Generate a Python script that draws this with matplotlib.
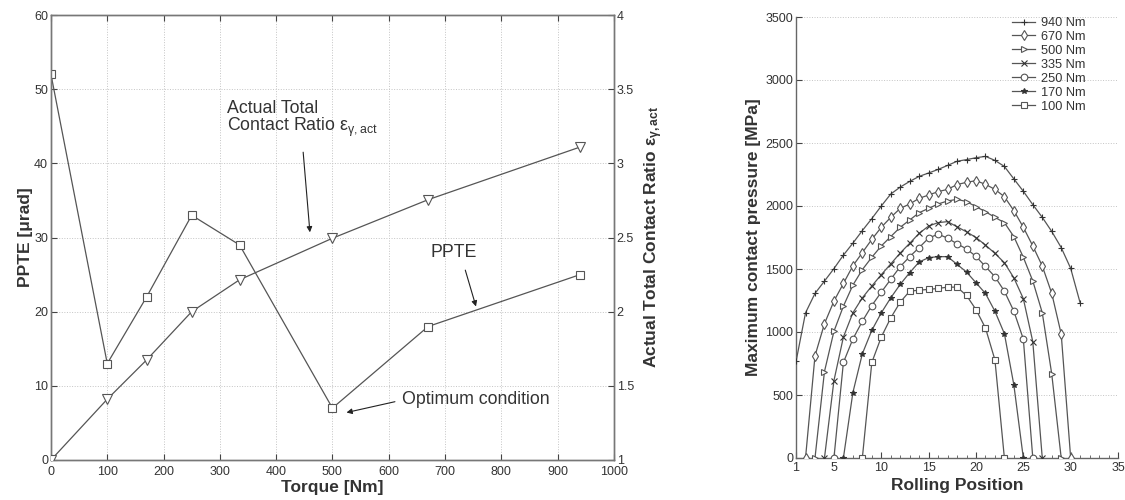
import matplotlib
matplotlib.use('Agg')
import matplotlib.pyplot as plt
from matplotlib.ticker import MultipleLocator, FuncFormatter, FixedLocator

plt.rcParams['font.family'] = ['Liberation Sans', 'DejaVu Sans']
plt.rcParams['mathtext.fontset'] = 'custom'
plt.rcParams['mathtext.rm'] = 'Liberation Sans'
plt.rcParams['mathtext.it'] = 'Liberation Sans:italic'
plt.rcParams['mathtext.bf'] = 'Liberation Sans:bold'

# ---------------- data: left chart ----------------
torque = [0, 100, 170, 250, 335, 500, 670, 940]
ppte = [52, 13, 22, 33, 29, 7, 18, 25]
contact_ratio = [1.0, 1.41, 1.675, 2.0, 2.215, 2.495, 2.755, 3.11]

# ---------------- data: right chart ----------------
labels = ['940 Nm', '670 Nm', '500 Nm', '335 Nm', '250 Nm', '170 Nm', '100 Nm']
markers = ['+', 'd', '>', 'x', 'o', '*', 's']

pos_940 = [1, 2, 3, 4, 5, 6, 7, 8, 9, 10, 11, 12, 13, 14, 15, 16, 17, 18, 19, 20,
           21, 22, 23, 24, 25, 26, 27, 28, 29, 30, 31]
p_940 = [766, 1152, 1306, 1404, 1503, 1610, 1705, 1805, 1900, 2000, 2095, 2150, 2195,
         2235, 2262, 2290, 2322, 2355, 2368, 2383, 2394, 2362, 2314, 2215, 2117, 2011,
         1910, 1798, 1670, 1505, 1231]
pos_670 = [2, 3, 4, 5, 6, 7, 8, 9, 10, 11, 12, 13, 14, 15, 16, 17, 18, 19, 20, 21,
           22, 23, 24, 25, 26, 27, 28, 29, 30]
p_670 = [0, 811, 1066, 1245, 1385, 1525, 1630, 1735, 1831, 1910, 1981, 2016, 2061, 2087,
         2114, 2132, 2170, 2188, 2201, 2172, 2132, 2074, 1963, 1831, 1683, 1524, 1307, 984, 0]
pos_500 = [3, 4, 5, 6, 7, 8, 9, 10, 11, 12, 13, 14, 15, 16, 17, 18, 19, 20, 21, 22,
           23, 24, 25, 26, 27, 28, 29]
p_500 = [0, 686, 1005, 1205, 1372, 1495, 1593, 1683, 1757, 1831, 1889, 1947, 1981, 2016,
         2040, 2053, 2035, 1995, 1955, 1910, 1868, 1757, 1593, 1405, 1153, 667, 0]
pos_335 = [4, 5, 6, 7, 8, 9, 10, 11, 12, 13, 14, 15, 16, 17, 18, 19, 20, 21, 22, 23,
           24, 25, 26, 27]
p_335 = [0, 614, 960, 1152, 1271, 1365, 1455, 1540, 1627, 1704, 1783, 1841, 1868, 1876,
         1835, 1795, 1750, 1690, 1624, 1550, 1430, 1265, 923, 0]
pos_250 = [5, 6, 7, 8, 9, 10, 11, 12, 13, 14, 15, 16, 17, 18, 19, 20, 21, 22, 23, 24,
           25, 26]
p_250 = [0, 758, 944, 1085, 1210, 1316, 1418, 1519, 1598, 1670, 1745, 1777, 1745, 1700,
         1660, 1600, 1520, 1439, 1324, 1165, 944, 0]
pos_170 = [6, 7, 8, 9, 10, 11, 12, 13, 14, 15, 16, 17, 18, 19, 20, 21, 22, 23, 24, 25]
p_170 = [0, 519, 827, 1013, 1152, 1271, 1378, 1471, 1556, 1590, 1598, 1598, 1537, 1476,
         1391, 1306, 1165, 987, 580, 0]
pos_100 = [8, 9, 10, 11, 12, 13, 14, 15, 16, 17, 18, 19, 20, 21, 22, 23]
p_100 = [0, 758, 960, 1112, 1237, 1324, 1332, 1338, 1346, 1356, 1356, 1290, 1178, 1032,
         779, 0]

positions = [pos_940, pos_670, pos_500, pos_335, pos_250, pos_170, pos_100]
pressures = [p_940, p_670, p_500, p_335, p_250, p_170, p_100]

LC = '#555555'
TC = '#333333'
GC = '#c4c4c4'
TICK_FS = 9
LABEL_FS = 12.5
ANN_FS = 12.8

fig = plt.figure(figsize=(11.25, 5), dpi=100)

# ================= left chart =================
ax = fig.add_axes([0.0453, 0.08, 0.5004, 0.89])
ax.plot(torque, ppte, color=LC, lw=0.9, marker='s', ms=5.5, mfc='white', mec=LC, mew=0.8,
        zorder=3)
ax.set_xlim(0, 1000)
ax.set_ylim(0, 60)
ax.xaxis.set_major_locator(MultipleLocator(100))
ax.yaxis.set_major_locator(MultipleLocator(10))
ax.grid(True, linestyle=':', color=GC, lw=0.7)
ax.tick_params(direction='in', labelsize=TICK_FS, colors='#444444', labelcolor=TC, top=True,
               length=4, pad=2)
ax.tick_params(axis='x', pad=4)
for s in ax.spines.values():
    s.set_color('#777777')
    s.set_linewidth(1.0)
ax.set_xlabel('Torque [Nm]', fontsize=LABEL_FS, fontweight='bold', color=TC, labelpad=2)
ax.set_ylabel('PPTE [\u03bcrad]', fontsize=LABEL_FS, fontweight='bold', color=TC, labelpad=1)

ax2 = ax.twinx()
ax2.plot(torque, contact_ratio, color=LC, lw=0.9, marker='v', ms=6.5, mfc='white', mec=LC,
         mew=0.8, zorder=3)
ax2.set_ylim(1, 4)
ax2.yaxis.set_major_locator(MultipleLocator(0.5))
ax2.yaxis.set_major_formatter(FuncFormatter(lambda v, p: '%g' % v))
ax2.tick_params(direction='in', labelsize=TICK_FS, colors='#444444', labelcolor=TC, length=4,
                pad=2)
for s in ax2.spines.values():
    s.set_color('#777777')
    s.set_linewidth(1.0)
ax2.set_ylabel('Actual Total Contact Ratio \u03b5$_{\\mathbf{\u03b3,act}}$', fontsize=LABEL_FS,
               fontweight='bold', color=TC, labelpad=6)

arrow = dict(arrowstyle='-|>', color='#222222', lw=0.8, mutation_scale=8,
             shrinkA=0, shrinkB=0)
ax.text(312, 48.6, 'Actual Total\nContact Ratio \u03b5$_{\\mathrm{\u03b3,act}}$',
        ha='left', va='top', fontsize=ANN_FS, color=TC, linespacing=0.95)
ax.annotate('', xy=(460, 30.7), xytext=(448, 41.5), arrowprops=arrow)
ax.text(716, 28.0, 'PPTE', ha='center', va='center', fontsize=ANN_FS, color=TC)
ax.annotate('', xy=(755, 20.7), xytext=(736, 25.6), arrowprops=arrow)
ax.text(623, 8.1, 'Optimum condition', ha='left', va='center', fontsize=ANN_FS, color=TC)
ax.annotate('', xy=(525, 6.4), xytext=(611, 7.86), arrowprops=arrow)

# ================= right chart =================
bx = fig.add_axes([0.7076, 0.084, 0.2862, 0.882])
for xs, ys, m, lab in zip(positions, pressures, markers, labels):
    if m in ('+', 'x', '*'):
        bx.plot(xs, ys, color=LC, lw=0.9, marker=m, ms=4.5 if m != '*' else 4,
                mec='#333333', mfc='#333333', mew=0.8, label=lab, zorder=3)
    else:
        bx.plot(xs, ys, color=LC, lw=0.9, marker=m, ms=4.8, mfc='white', mec=LC,
                mew=0.8, label=lab, zorder=3)
bx.set_xlim(1, 35)
bx.set_ylim(0, 3500)
bx.xaxis.set_major_locator(FixedLocator([1, 5, 10, 15, 20, 25, 30, 35]))
bx.xaxis.set_minor_locator(MultipleLocator(1))
bx.yaxis.set_major_locator(MultipleLocator(500))
bx.grid(True, axis='y', linestyle=':', color=GC, lw=0.7)
bx.tick_params(direction='in', labelsize=TICK_FS, colors='#444444', labelcolor=TC, length=4,
               pad=2)
bx.tick_params(axis='x', pad=3)
bx.tick_params(which='minor', direction='in', length=2.5, colors='#555555')
bx.spines['top'].set_visible(False)
bx.spines['right'].set_visible(False)
for s in ('left', 'bottom'):
    bx.spines[s].set_color('#666666')
    bx.spines[s].set_linewidth(1.0)
bx.set_xlabel('Rolling Position', fontsize=LABEL_FS, fontweight='bold', color=TC, labelpad=3)
bx.set_ylabel('Maximum contact pressure [MPa]', fontsize=LABEL_FS, fontweight='bold',
              color=TC, labelpad=3)
leg = bx.legend(loc='upper left', bbox_to_anchor=(0.672, 1.0), frameon=False,
                fontsize=9.2, labelspacing=0.15, handlelength=1.8, handletextpad=0.4,
                borderaxespad=0.0, borderpad=0.0)
for t in leg.get_texts():
    t.set_color(TC)

fig.savefig('out.png', dpi=100)
